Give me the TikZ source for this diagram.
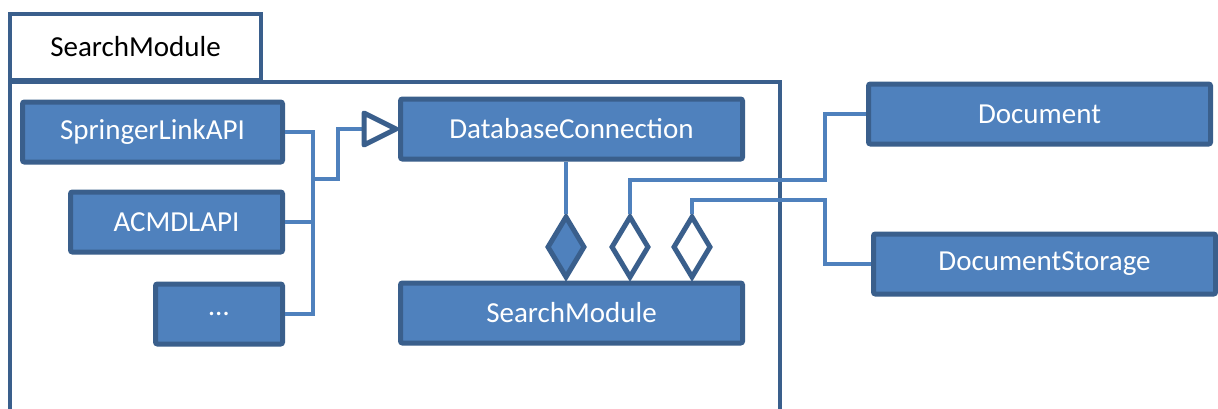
\documentclass[tikz,border=0pt]{standalone}
\usepackage{fontspec}
\setmainfont{Carlito}
\usetikzlibrary{shapes.geometric,shadows,positioning}
\definecolor{boxblue}{HTML}{4F81BD}
\definecolor{edgeblue}{HTML}{3A5F8C}

\begin{document}
\begin{tikzpicture}[x=0.5pt,y=-0.5pt,
    cls/.style={draw=edgeblue, fill=boxblue, line width=2.5pt, text=white,
        rounded corners=1pt, minimum height=30pt, inner sep=0pt,
        font=\fontsize{14.5}{17}\selectfont,
        drop shadow={opacity=0.25, shadow xshift=1pt, shadow yshift=-1pt}},
    conn/.style={draw=boxblue, line width=2pt},
    agg/.style={diamond, draw=edgeblue, line width=2.5pt, fill=white,
        inner sep=0pt, minimum width=19pt, minimum height=31pt},
    gentip/.style={draw=edgeblue, line width=2.5pt, line join=round, fill=white},
    pkg/.style={draw=edgeblue, line width=2pt},
    ]
\useasboundingbox (0,0) rectangle (1218,408);

% package frame
\draw[pkg] (10,412) -- (10,82) -- (780,82) -- (780,412);
\node[pkg, fill=white, minimum width=125.5pt, minimum height=33pt, inner sep=0pt,
    font=\fontsize{14.5}{17}\selectfont] (tab) at (135.5,47) {SearchModule};

% coordinates for the bends
\coordinate (bus) at (313,179);
\coordinate (jdoc) at (825,180);
\coordinate (jstore) at (825,200);

% classes
\node[cls, minimum width=130pt] (spr) at (152.5,132) {SpringerLinkAPI};
\node[cls, minimum width=106pt] (acm) at (176.5,222) {ACMDLAPI};
\node[cls, minimum width=63.5pt] (dots) at (219,314) {\dots};
\node[cls, minimum width=171pt] (db) at (571.5,129) {DatabaseConnection};
\node[cls, minimum width=171pt] (sm) at (571.5,313) {SearchModule};
\node[cls, minimum width=171pt] (doc) at (1039.5,114) {Document};
\node[cls, minimum width=171pt] (store) at (1044.5,264) {DocumentStorage};

% aggregation diamonds
\node[agg, fill=boxblue, above=0pt of sm.north, xshift=-2.75pt] (d1) {};
\node[agg, above=0pt of sm.north, xshift=29.25pt] (d2) {};
\node[agg, above=0pt of sm.north, xshift=60.25pt] (d3) {};

% connectors
\draw[conn] (spr.east) -| (bus) |- (dots.east);
\draw[conn] (acm.east) -- (acm.east -| bus);
\draw[conn] (bus) -- ++(25,0) |- (db.west);
% generalization head
\draw[gentip] ([xshift=-1pt]db.west) -- ++(-32,-16) -- ++(0,32) -- cycle;
\draw[conn] (d1.north |- db.south) -- (d1.north);
\draw[conn] (d2.north) |- (jdoc) |- (doc.west);
\draw[conn] (d3.north) |- (jstore) |- (store.west);

\end{tikzpicture}
\end{document}
